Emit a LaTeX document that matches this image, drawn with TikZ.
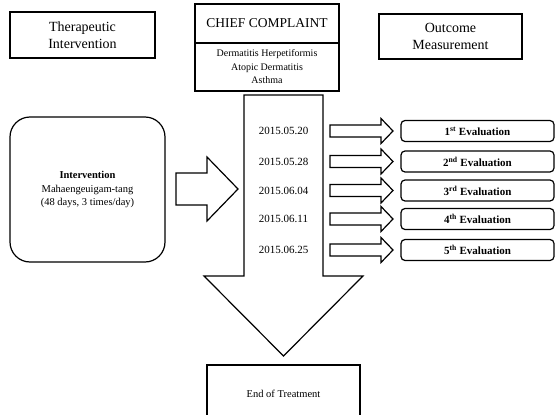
\documentclass[tikz,border=0pt]{standalone}
\usepackage{fontspec}
\setmainfont{Liberation Serif}
\usetikzlibrary{positioning}

\tikzset{
  headbox/.style={draw,line width=1.2pt,rectangle,outer sep=0pt,align=center,font=\fontsize{14}{16.5}\selectfont},
  evalbox/.style={draw,line width=1.2pt,rounded corners=4pt,minimum width=153pt,minimum height=21pt,inner sep=0pt,font=\fontsize{11}{13}\selectfont\bfseries},
  datelabel/.style={inner sep=1pt,font=\fontsize{11}{13}\selectfont},
  blockarrow/.style={draw,line width=1.2pt,fill=white,line join=miter}
}

\begin{document}
\begin{tikzpicture}[x=1pt,y=-1pt]
        \useasboundingbox (0,0) rectangle (555,415);
        \clip (0,0) rectangle (555,415);
        % column headers
        \node[headbox,minimum width=145pt,minimum height=46pt] (therapy) at (82.5,35) {Therapeutic\\Intervention};
        \node[headbox,minimum width=143pt,minimum height=45pt] (outcome) at (450.5,36.5) {Outcome\\Measurement};
        \node[headbox,minimum width=144pt,minimum height=39pt,font=\fontsize{13.5}{16}\selectfont] (chief) at (267,23.5) {CHIEF COMPLAINT};
        \node[headbox,below=0pt of chief,minimum width=144pt,minimum height=48pt,font=\fontsize{10}{13.5}\selectfont] (complaint) {Dermatitis Herpetiformis\\Atopic Dermatitis\\Asthma};
        % intervention
        \node[draw,line width=1.2pt,rounded corners=20pt,minimum width=155pt,minimum height=145pt,align=center,font=\fontsize{10.5}{13.5}\selectfont] (interv) at (87.5,189.5) {\textbf{Intervention}\\Mahaengeuigam-tang\\(48 days, 3 times/day)};
        \draw[blockarrow] (176,173) -- (207,173) -- (207,157) -- (238,189) -- (207,221) -- (207,205) -- (176,205) -- cycle;
        % treatment period
        \draw[blockarrow] (244,95) -- (323,95) -- (323,276) -- (363,276) -- (283.5,356) -- (204,276) -- (244,276) -- cycle;
        \node[draw,line width=1.2pt,minimum width=153pt,minimum height=58pt,font=\fontsize{10.5}{13}\selectfont] (end) at (283.5,394) {End of Treatment};
        % visits and evaluations
        \foreach \i/\y/\d/\s in {1/131/2015.05.20/st,2/161.5/2015.05.28/nd,3/190.5/2015.06.04/rd,4/219/2015.06.11/th,5/250/2015.06.25/th} {
            \node[datelabel] (d\i) at (283.5,\y) {\d};
            \node[evalbox] (e\i) at (477.5,\y) {\i\textsuperscript{\s} Evaluation};
            \draw[blockarrow] (330,\y-6) -- (381,\y-6) -- (381,\y-12.5) -- (393,\y) -- (381,\y+12.5) -- (381,\y+6) -- (330,\y+6) -- cycle;
        }
    \end{tikzpicture}
\end{document}
